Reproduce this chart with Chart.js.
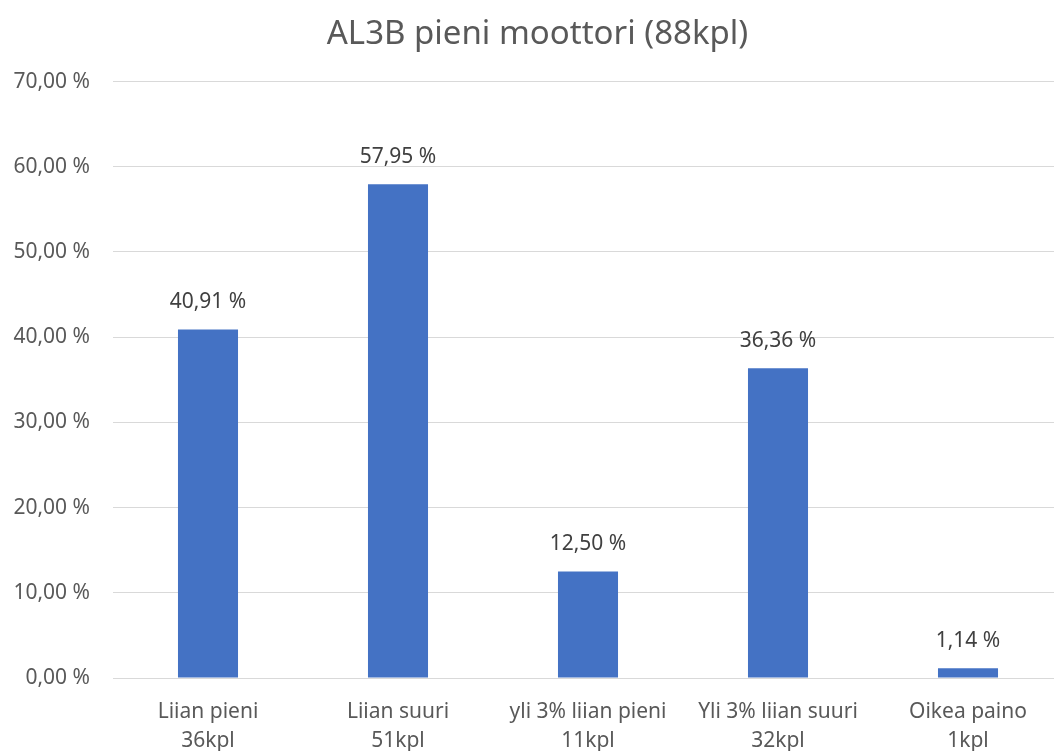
<!DOCTYPE html>
<html>
<head>
<meta charset="utf-8">
<script src="https://cdn.jsdelivr.net/npm/chart.js@4/dist/chart.umd.min.js"></script>
<style>
  html, body { margin: 0; padding: 0; background: #fff; overflow: hidden; }
  #frame { width: 1054px; height: 751px; overflow: hidden; }
  /* the original picture is cut off on the right, so the canvas runs past the edge */
  #wrap { width: 1063px; height: 751px; position: relative; }
</style>
</head>
<body>
<div id="frame"><div id="wrap"><canvas id="chart"></canvas></div></div>
<script>
const categories = [
    ["Liian pieni", "36kpl"],
    ["Liian suuri", "51kpl"],
    ["yli 3% liian pieni", "11kpl"],
    ["Yli 3% liian suuri", "32kpl"],
    ["Oikea paino", "1kpl"]
];
const values = [40.91, 57.95, 12.50, 36.36, 1.14];
const chartTitle = "AL3B pieni moottori (88kpl)";

const FONT = "'Segoe UI', 'Noto Sans', 'Open Sans', sans-serif";
const fmt = v => v.toFixed(2).replace(".", ",") + " %";

// value labels above bars
const barLabels = {
    id: "barLabels",
    afterDatasetsDraw(chart) {
        const ctx = chart.ctx;
        const meta = chart.getDatasetMeta(0);
        ctx.save();
        ctx.font = "21px " + FONT;
        ctx.fillStyle = "#404040";
        ctx.textAlign = "center";
        ctx.textBaseline = "middle";
        meta.data.forEach((bar, i) => {
            ctx.fillText(fmt(values[i]), bar.x, bar.y - 27);
        });
        ctx.restore();
    }
};

new Chart(document.getElementById("chart"), {
    type: "bar",
    data: {
        labels: categories,
        datasets: [{
            data: values,
            backgroundColor: "#4472C4",
            barPercentage: 0.316,
            categoryPercentage: 1
        }]
    },
    options: {
        responsive: true,
        maintainAspectRatio: false,
        animation: false,
        layout: { padding: { left: 12, right: 0, top: 15, bottom: 0 } },
        plugins: {
            legend: { display: false },
            tooltip: { enabled: false },
            title: {
                display: true,
                text: chartTitle,
                color: "#595959",
                font: { family: FONT, size: 33, weight: "normal" },
                padding: { top: 0, bottom: 27 }
            }
        },
        scales: {
            x: {
                grid: { display: false },
                border: { display: false },
                afterFit: s => { s.height = 73; },
                ticks: {
                    color: "#595959",
                    font: { family: FONT, size: 21, lineHeight: 1.38 },
                    padding: 12,
                    maxRotation: 0
                }
            },
            y: {
                min: 0,
                max: 70,
                grid: { color: "#d9d9d9", drawTicks: false },
                border: { display: false },
                afterFit: s => { s.width = 101; },
                ticks: {
                    stepSize: 10,
                    color: "#595959",
                    font: { family: FONT, size: 21 },
                    padding: 23,
                    callback: v => fmt(v)
                }
            }
        }
    },
    plugins: [barLabels]
});
</script>
</body>
</html>
